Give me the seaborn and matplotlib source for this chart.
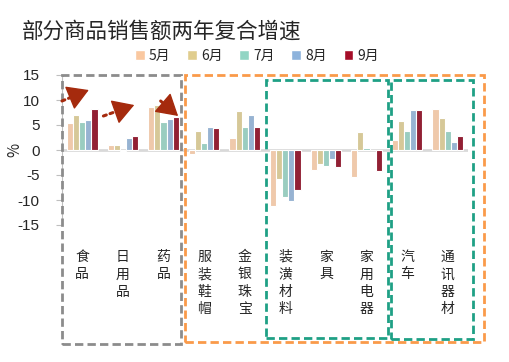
import matplotlib
matplotlib.use("Agg")
import matplotlib.pyplot as plt
import matplotlib.patches as mpatches
import seaborn as sns
import pandas as pd
import numpy as np

categories = ["食品", "日用品", "药品", "服装鞋帽", "金银珠宝", "装潢材料", "家具", "家用电器", "汽车", "通讯器材"]
months = ["5月", "6月", "7月", "8月", "9月"]
may = [5.4, 1.0, 8.7, -0.8, 2.5, -11.1, -3.9, -5.3, 2.1, 8.2]
jun = [7.0, 1.0, 9.0, 3.9, 7.8, -5.7, -2.7, 3.7, 5.9, 6.4]
jul = [5.7, -0.1, 5.6, 1.5, 4.7, -9.3, -3.1, 0.5, 3.9, 3.9]
aug = [6.1, 2.5, 6.3, 4.7, 7.1, -10.1, -1.8, 0.1, 8.1, 1.7]
sep = [8.2, 2.9, 6.7, 4.5, 4.7, -8.0, -3.4, -4.1, 8.1, 2.9]
yticks = [15, 10, 5, 0, -5, -10, -15]

colors = ["#FAC8A0", "#E0CD8E", "#92D5C4", "#8DB3DC", "#A50D28"]

rows = []
for m, vals in zip(months, [may, jun, jul, aug, sep]):
    for c, v in zip(categories, vals):
        rows.append({"cat": c, "month": m, "val": v})
df = pd.DataFrame(rows)

sns.set_style("white")
plt.rcParams["font.family"] = ["Noto Sans CJK SC", "DejaVu Sans"]

W, H = 509, 362
fig = plt.figure(figsize=(W / 100, H / 100), dpi=100)
ax = fig.add_axes([62 / W, 1 - 225 / H, (468 - 62) / W, 150 / H])

ax.axhline(0, color="#D9D9D9", lw=2, zorder=0)
sns.barplot(data=df, x="cat", y="val", hue="month", order=categories, hue_order=months,
            palette=colors, width=0.75, edgecolor="white", linewidth=0.8, ax=ax,
            legend=False, zorder=2)

ax.set_ylim(-15, 15)
ax.set_xlim(-0.5, len(categories) - 0.5)
ax.set_yticks(yticks)
ax.set_yticklabels([str(t) for t in yticks], family=["Liberation Sans", "DejaVu Sans"], fontsize=11)
ax.set_xticks(range(len(categories)))
ax.set_xticklabels(["\n".join(c) for c in categories], fontsize=10, linespacing=1.3, va="top")
ax.tick_params(axis="x", length=0, pad=18)
ax.tick_params(axis="y", length=4, width=0.8, color="#BFBFBF", pad=12, left=True)
for s in ["top", "right", "bottom"]:
    ax.spines[s].set_visible(False)
ax.spines["left"].set_color("#BFBFBF")
ax.set_xlabel("")
ax.set_ylabel("%", fontsize=11, labelpad=2)
ax.yaxis.set_label_coords(-0.095, 0.5)

# group boxes (data x, data y), drawn outside clip
boxes = [
    (-0.5, 2.43, 15.0, -38.8, "#8C8C8C"),
    (2.52, 9.89, 15.0, -38.4, "#FA9A4A"),
    (4.52, 7.53, 14.0, -37.6, "#1FA085"),
    (7.60, 9.62, 14.0, -37.8, "#1FA085"),
]
for x0, x1, y1, y0, col in boxes:
    r = mpatches.Rectangle((x0, y0), x1 - x0, y1 - y0, fill=False, edgecolor=col,
                           lw=2, linestyle=(0, (3, 1.5)), clip_on=False, zorder=5)
    ax.add_patch(r)

# arrows: dotted shaft + solid head
arrow_col = "#A52A0D"
arrows = [((-0.5, 9.8), (0.16, 12.0)), ((0.52, 6.8), (1.28, 9.0)), ((1.93, 9.8), (2.36, 6.8))]
for (xt, yt), (xh, yh) in arrows:
    p0 = ax.transData.transform((xt, yt))
    p1 = ax.transData.transform((xh, yh))
    d = p1 - p0
    L = np.hypot(*d)
    frac = max(0.0, 1 - 13 / L)
    pm = p0 + d * frac
    xm, ym = ax.transData.inverted().transform(pm)
    ax.annotate("", xy=(xm, ym), xytext=(xt, yt),
                arrowprops=dict(arrowstyle="-", color=arrow_col, lw=2.2,
                                linestyle=(0, (1, 1.3)), shrinkA=0, shrinkB=0),
                annotation_clip=False, zorder=6)
    ax.annotate("", xy=(xh, yh), xytext=(xm, ym),
                arrowprops=dict(arrowstyle="-|>,head_length=1.35,head_width=0.8",
                                color=arrow_col, lw=1, shrinkA=0, shrinkB=0,
                                mutation_scale=10),
                annotation_clip=False, zorder=6)

fig.text(22 / W, 1 - 32 / H, "部分商品销售额两年复合增速", fontsize=15.5, va="center", ha="left")

handles = [mpatches.Patch(facecolor=c, edgecolor="white", label=m) for c, m in zip(colors, months)]
fig.legend(handles=handles, loc="center", bbox_to_anchor=(257 / W, 1 - 56 / H), ncol=5,
           frameon=False, fontsize=10, handlelength=0.7, handleheight=0.7, handletextpad=0.3,
           columnspacing=1.2)

fig.savefig("out.png", dpi=100)
